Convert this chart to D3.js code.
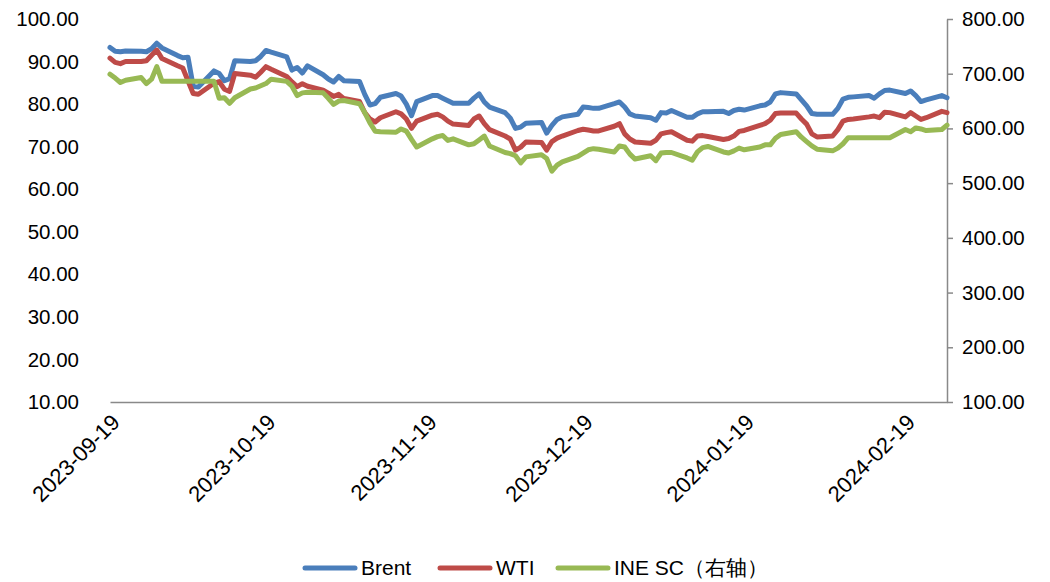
<!DOCTYPE html>
<html>
<head>
<meta charset="utf-8">
<script src="https://cdn.jsdelivr.net/npm/d3@7"></script>
<style>
  body { margin: 0; background: #fff; }
  text { font-family: "Liberation Sans", Arial, sans-serif; fill: #000; }
</style>
</head>
<body>
<div id="chart"></div>
<script>
// Trading days shown on the chart
const dates = [
  "2023-09-19","2023-09-20","2023-09-21","2023-09-22","2023-09-25","2023-09-26","2023-09-27","2023-09-28","2023-09-29",
  "2023-10-02","2023-10-03","2023-10-04","2023-10-05","2023-10-06","2023-10-09","2023-10-10","2023-10-11","2023-10-12","2023-10-13",
  "2023-10-16","2023-10-17","2023-10-18","2023-10-19","2023-10-20","2023-10-23","2023-10-24","2023-10-25","2023-10-26","2023-10-27",
  "2023-10-30","2023-10-31","2023-11-01","2023-11-02","2023-11-03","2023-11-06","2023-11-07","2023-11-08","2023-11-09","2023-11-10",
  "2023-11-13","2023-11-14","2023-11-15","2023-11-16","2023-11-17","2023-11-20","2023-11-21","2023-11-22","2023-11-23","2023-11-24",
  "2023-11-27","2023-11-28","2023-11-29","2023-11-30","2023-12-01","2023-12-04","2023-12-05","2023-12-06","2023-12-07","2023-12-08",
  "2023-12-11","2023-12-12","2023-12-13","2023-12-14","2023-12-15","2023-12-18","2023-12-19","2023-12-20","2023-12-21","2023-12-22",
  "2023-12-25","2023-12-26","2023-12-27","2023-12-28","2023-12-29","2024-01-01","2024-01-02","2024-01-03","2024-01-04","2024-01-05",
  "2024-01-08","2024-01-09","2024-01-10","2024-01-11","2024-01-12","2024-01-15","2024-01-16","2024-01-17","2024-01-18","2024-01-19",
  "2024-01-22","2024-01-23","2024-01-24","2024-01-25","2024-01-26","2024-01-29","2024-01-30","2024-01-31","2024-02-01","2024-02-02",
  "2024-02-05","2024-02-06","2024-02-07","2024-02-08","2024-02-09","2024-02-12","2024-02-13","2024-02-14","2024-02-15","2024-02-16",
  "2024-02-19","2024-02-20","2024-02-21","2024-02-22","2024-02-23","2024-02-26","2024-02-27"
];

const brent = [
  93.3,92.4,92.3,92.5,92.4,92.3,93.0,94.3,93.2,
  91.4,90.9,91.0,84.2,84.0,87.8,87.2,85.5,86.0,90.2,
  90.0,90.2,91.2,92.6,92.2,91.1,88.0,88.6,87.3,89.0,
  86.9,85.9,85.2,86.5,85.5,85.3,82.3,79.8,80.1,81.6,
  82.5,81.9,80.0,77.3,80.6,82.0,82.0,81.4,80.8,80.2,
  80.2,81.4,82.4,80.5,79.3,78.0,76.7,74.3,74.6,75.5,
  75.7,73.2,75.0,76.4,77.0,77.6,79.3,79.2,79.0,79.0,
  80.1,80.5,79.3,77.7,77.2,76.8,76.2,78.0,77.9,78.5,
  76.9,76.9,77.7,78.2,78.2,78.3,77.8,78.5,78.8,78.6,
  79.6,79.8,80.5,82.4,82.7,82.4,81.0,79.6,77.8,77.6,
  77.6,79.0,81.2,81.6,81.7,82.0,81.4,82.4,83.2,83.3,
  82.5,83.1,82.0,80.6,81.0,82.0,81.5
];

const wti = [
  90.8,89.8,89.5,90.0,90.0,90.2,91.5,92.7,90.7,
  89.0,88.5,85.5,82.5,82.3,84.9,85.3,83.5,83.0,87.2,
  86.8,86.3,87.5,88.8,88.2,86.5,85.2,84.1,84.8,84.2,
  83.3,82.6,81.8,82.3,81.3,80.6,78.0,76.5,75.8,76.8,
  78.2,77.7,76.5,74.3,76.0,77.4,77.6,77.0,76.0,75.3,
  75.0,76.5,77.2,75.4,74.0,72.5,71.8,69.2,69.9,71.1,
  71.0,69.2,71.2,72.0,72.5,73.8,74.1,73.9,73.7,73.7,
  74.8,75.4,73.0,71.8,71.1,70.8,71.5,73.0,73.3,73.5,
  71.5,71.3,72.5,72.6,72.4,71.7,71.9,72.5,73.6,73.8,
  75.0,75.4,76.2,77.8,77.9,77.9,76.5,75.3,73.0,72.3,
  72.5,74.0,76.0,76.4,76.5,77.0,77.2,76.8,78.1,78.0,
  77.0,78.0,77.2,76.4,76.8,78.3,78.0
];

const sc = [
  699,692,684,688,693,682,690,713,686,
  686,686,686,686,686,686,655,656,646,656,
  672,674,678,682,690,686,677,660,665,666,
  665,655,644,650,651,645,629,610,595,594,
  593,599,595,580,566,581,585,587,578,581,
  570,572,579,586,568,556,554,550,537,548,
  552,545,522,533,539,549,555,561,563,562,
  557,568,566,553,544,550,541,555,556,556,
  546,542,557,565,567,557,555,559,564,561,
  566,570,570,582,589,594,584,576,568,562,
  559,564,572,583,583,583,583,583,583,583,
  598,594,601,599,596,598,606
];

const leftTicks = [10, 20, 30, 40, 50, 60, 70, 80, 90, 100];
const rightTicks = [100, 200, 300, 400, 500, 600, 700, 800];
const xTickLabels = ["2023-09-19","2023-10-19","2023-11-19","2023-12-19","2024-01-19","2024-02-19"];

const seriesNames = ["Brent", "WTI", "INE SC（右轴）"];
const colors = ["#4a7ebb", "#be4b48", "#98b954"];

const W = 1050, H = 582;
const plot = {left: 110, right: 947, top: 19, bottom: 402};

const parse = d3.timeParse("%Y-%m-%d");
const days = dates.map(parse);

const svg = d3.select("#chart").append("svg")
  .attr("width", W).attr("height", H);

const x = d3.scaleTime()
  .domain([days[0], days[days.length - 1]])
  .range([plot.left, plot.right]);

const yL = d3.scaleLinear().domain([10, 100]).range([plot.bottom, plot.top]);
const yR = d3.scaleLinear().domain([100, 800]).range([plot.bottom, plot.top]);

// Left axis: labels only
const gL = svg.append("g")
  .attr("transform", `translate(${plot.left},0)`)
  .call(d3.axisLeft(yL).tickValues(leftTicks).tickSize(0).tickPadding(31).tickFormat(d3.format(".2f")));
gL.select(".domain").remove();
gL.selectAll("text").style("font-size", "20.5px");

// Right axis with line and outer ticks
const gR = svg.append("g")
  .attr("transform", `translate(${plot.right},0)`)
  .call(d3.axisRight(yR).tickValues(rightTicks).tickSize(6).tickSizeOuter(0).tickPadding(9).tickFormat(d3.format(".2f")));
gR.select(".domain").attr("stroke", "#898989").attr("stroke-width", 1.5);
gR.selectAll(".tick line").attr("stroke", "#898989").attr("stroke-width", 1.5);
gR.selectAll("text").style("font-size", "20.5px");

// Bottom axis
const gX = svg.append("g")
  .attr("transform", `translate(0,${plot.bottom})`)
  .call(d3.axisBottom(x).tickValues(xTickLabels.map(parse)).tickSize(0).tickSizeOuter(0)
    .tickFormat(d3.timeFormat("%Y-%m-%d")));
gX.select(".domain").attr("stroke", "#898989").attr("stroke-width", 1.5);
gX.selectAll("text")
  .style("font-size", "22px")
  .attr("text-anchor", "end")
  .attr("dy", "0.35em")
  .attr("transform", "translate(3,14) rotate(-45)");

// Lines
const seriesData = [
  {vals: brent, y: yL},
  {vals: wti, y: yL},
  {vals: sc, y: yR}
];

seriesData.forEach((s, i) => {
  const line = d3.line()
    .x((d, j) => x(days[j]))
    .y(d => s.y(d));
  svg.append("path")
    .datum(s.vals)
    .attr("fill", "none")
    .attr("stroke", colors[i])
    .attr("stroke-width", 5)
    .attr("stroke-linejoin", "round")
    .attr("stroke-linecap", "round")
    .attr("d", line);
});

// Legend
const legendX = [305, 440, 558];
const legend = svg.selectAll(".legend")
  .data(seriesNames)
  .join("g")
    .attr("class", "legend")
    .attr("transform", (d, i) => `translate(${legendX[i]},568)`);

legend.append("line")
  .attr("x1", 0).attr("x2", 50)
  .attr("stroke", (d, i) => colors[i])
  .attr("stroke-width", 5)
  .attr("stroke-linecap", "round");

legend.append("text")
  .attr("x", 56)
  .attr("dy", "0.35em")
  .style("font-size", "21px")
  .text(d => d);
</script>
</body>
</html>
